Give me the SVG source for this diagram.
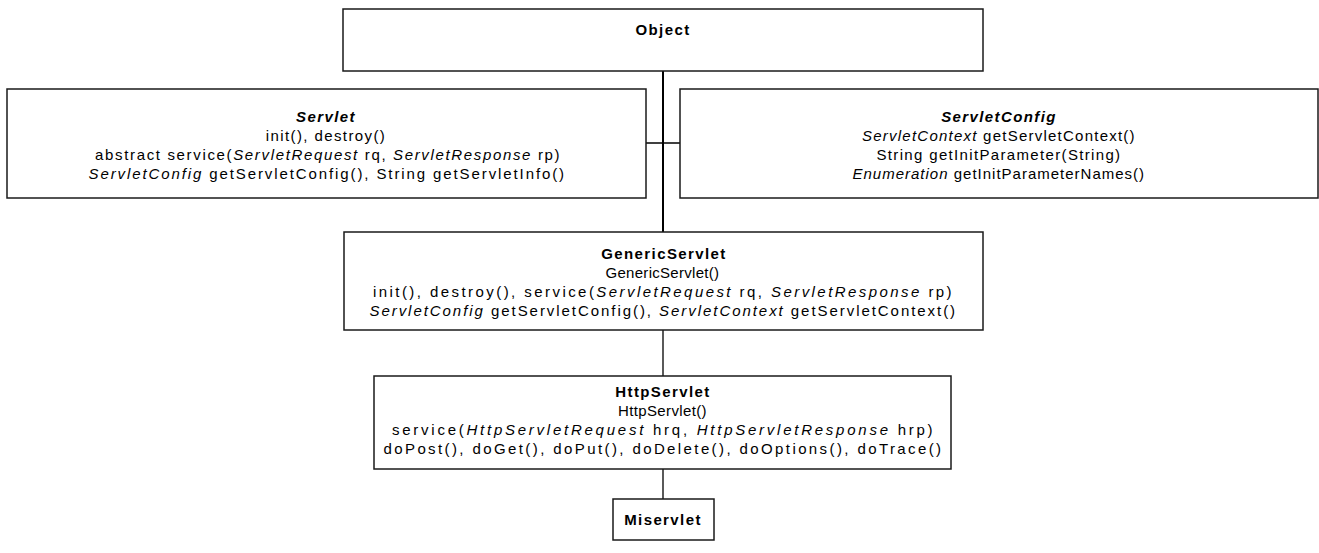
<svg xmlns="http://www.w3.org/2000/svg" width="1319" height="553" viewBox="0 0 1319 553">
<style>
.box{fill:#fff;stroke:#1a1a1a;stroke-width:1.5}
.t{font-family:"Liberation Sans",Arial,sans-serif;font-size:15px;letter-spacing:1.4px;fill:#000;text-anchor:middle}
.b{font-weight:bold}
.i{font-style:italic}
.c{stroke:#000;stroke-width:2;fill:none}
.c1{stroke:#000;stroke-width:1.3;fill:none}
</style>
<rect width="1319" height="553" fill="#fff"/>
<g id="connectors">
<line class="c" x1="663" y1="71" x2="663" y2="232"/>
<line class="c1" x1="646" y1="143" x2="680" y2="143"/>
<line class="c1" x1="663" y1="330" x2="663" y2="376"/>
<line class="c1" x1="663" y1="469" x2="663" y2="499"/>
</g>
<g id="object">
<rect class="box" x="343" y="9" width="640" height="62"/>
<text class="t b" x="663" y="35">Object</text>
</g>
<g id="servlet">
<rect class="box" x="7" y="89" width="639" height="109"/>
<text class="t b i" x="326" y="122">Servlet</text>
<text class="t" x="326" y="141">init(), destroy()</text>
<text class="t" x="328" y="160" textLength="466" lengthAdjust="spacing">abstract service(<tspan class="i">ServletRequest</tspan> rq, <tspan class="i">ServletResponse</tspan> rp)</text>
<text class="t" x="327" y="179" textLength="477" lengthAdjust="spacing"><tspan class="i">ServletConfig</tspan> getServletConfig(), String getServletInfo()</text>
</g>
<g id="servletconfig">
<rect class="box" x="680" y="89" width="638" height="109"/>
<text class="t b i" x="999" y="122">ServletConfig</text>
<text class="t" x="999" y="141" textLength="274" lengthAdjust="spacing"><tspan class="i">ServletContext</tspan> getServletContext()</text>
<text class="t" x="999" y="160" textLength="245" lengthAdjust="spacing">String getInitParameter(String)</text>
<text class="t" x="999" y="179" textLength="293" lengthAdjust="spacing"><tspan class="i">Enumeration</tspan> getInitParameterNames()</text>
</g>
<g id="genericservlet">
<rect class="box" x="344" y="232" width="639" height="98"/>
<text class="t b" x="664" y="259">GenericServlet</text>
<text class="t" x="663" y="278" textLength="115" lengthAdjust="spacing">GenericServlet()</text>
<text class="t" x="663" y="297" textLength="580" lengthAdjust="spacing">init(), destroy(), service(<tspan class="i">ServletRequest</tspan> rq, <tspan class="i">ServletResponse</tspan> rp)</text>
<text class="t" x="663" y="316" textLength="587" lengthAdjust="spacing"><tspan class="i">ServletConfig</tspan> getServletConfig(), <tspan class="i">ServletContext</tspan> getServletContext()</text>
</g>
<g id="httpservlet">
<rect class="box" x="374" y="376" width="577" height="93"/>
<text class="t b" x="663" y="397">HttpServlet</text>
<text class="t" x="663" y="416" textLength="90" lengthAdjust="spacing">HttpServlet()</text>
<text class="t" x="663" y="435" textLength="542" lengthAdjust="spacing">service(<tspan class="i">HttpServletRequest</tspan> hrq, <tspan class="i">HttpServletResponse</tspan> hrp)</text>
<text class="t" x="663" y="454" textLength="559" lengthAdjust="spacing">doPost(), doGet(), doPut(), doDelete(), doOptions(), doTrace()</text>
</g>
<g id="miservlet">
<rect class="box" x="613" y="499" width="101" height="41"/>
<text class="t b" x="663" y="525">Miservlet</text>
</g>
</svg>
